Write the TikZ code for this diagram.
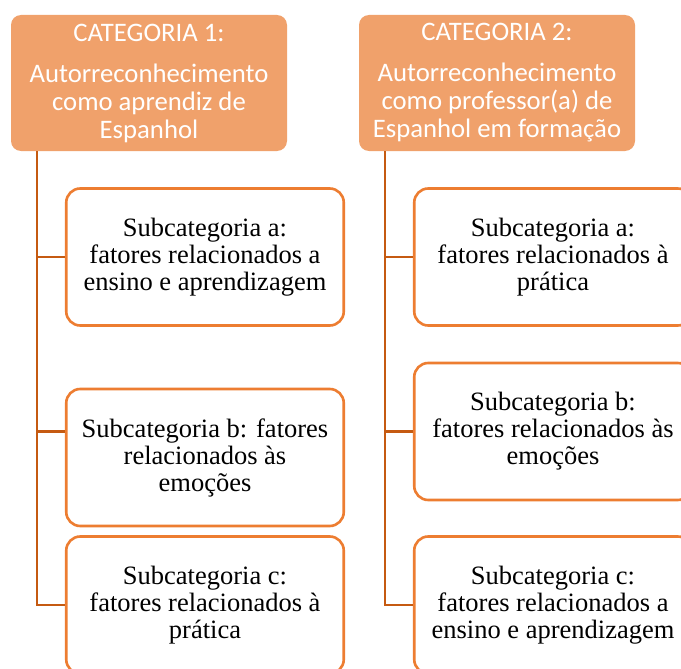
\documentclass[tikz,border=0pt]{standalone}
\usepackage{fontspec}
\setmainfont{Liberation Serif}
\newfontfamily\catfont{Carlito}
\definecolor{catfill}{HTML}{F0A16B}
\definecolor{subline}{HTML}{ED7D31}
\definecolor{linkline}{HTML}{C55A11}

\begin{document}
\begin{tikzpicture} [x=1pt, y=1pt,
		cat/.style={fill=catfill, rounded corners=10pt, minimum width=276pt, minimum height=136pt, text=white, align=center, font=\catfont\fontsize{26.7}{28}\selectfont},
		sub/.style={draw=subline, line width=2.6pt, fill=white, rounded corners=14pt, minimum width=277.5pt, minimum height=137pt, align=center, font=\fontsize{26.5}{27}\selectfont},
		link/.style={draw=linkline, line width=2.6pt}]
		\clip (0,0) rectangle (681,-669);
		\fill[white] (0,0) rectangle (681,-669);
		\node[cat] (cat1) at (149,-83) {CATEGORIA 1:\\[13pt]Autorreconhecimento\\como aprendiz de\\Espanhol};
		\node[cat] (cat2) at (497,-83) {CATEGORIA 2:\\[13pt]Autorreconhecimento\\como professor(a) de\\Espanhol em formação};
		\node[sub] (s1a) at (205,-257) {Subcategoria a:\\fatores relacionados a\\ensino e aprendizagem};
		\node[sub] (s1b) at (205,-457.5) {Subcategoria b: fatores\\relacionados às\\emoções};
		\node[sub] (s1c) at (205,-605) {Subcategoria c:\\fatores relacionados à\\prática};
		\node[sub] (s2a) at (553,-257) {Subcategoria a:\\fatores relacionados à\\prática};
		\node[sub] (s2b) at (553,-431.5) {Subcategoria b:\\fatores relacionados às\\emoções};
		\node[sub] (s2c) at (553,-605) {Subcategoria c:\\fatores relacionados a\\ensino e aprendizagem};
		% links
		\draw[link] ([xshift=26pt]cat1.south west) |- (s1a.west);
		\draw[link] ([xshift=26pt]cat1.south west) |- ([yshift=26pt]s1b.west);
		\draw[link] ([xshift=26pt]cat1.south west) |- (s1c.west);
		\draw[link] ([xshift=26pt]cat2.south west) |- (s2a.west);
		\draw[link] ([xshift=26pt]cat2.south west) |- (s2b.west);
		\draw[link] ([xshift=26pt]cat2.south west) |- (s2c.west);
		\end{tikzpicture}
\end{document}
